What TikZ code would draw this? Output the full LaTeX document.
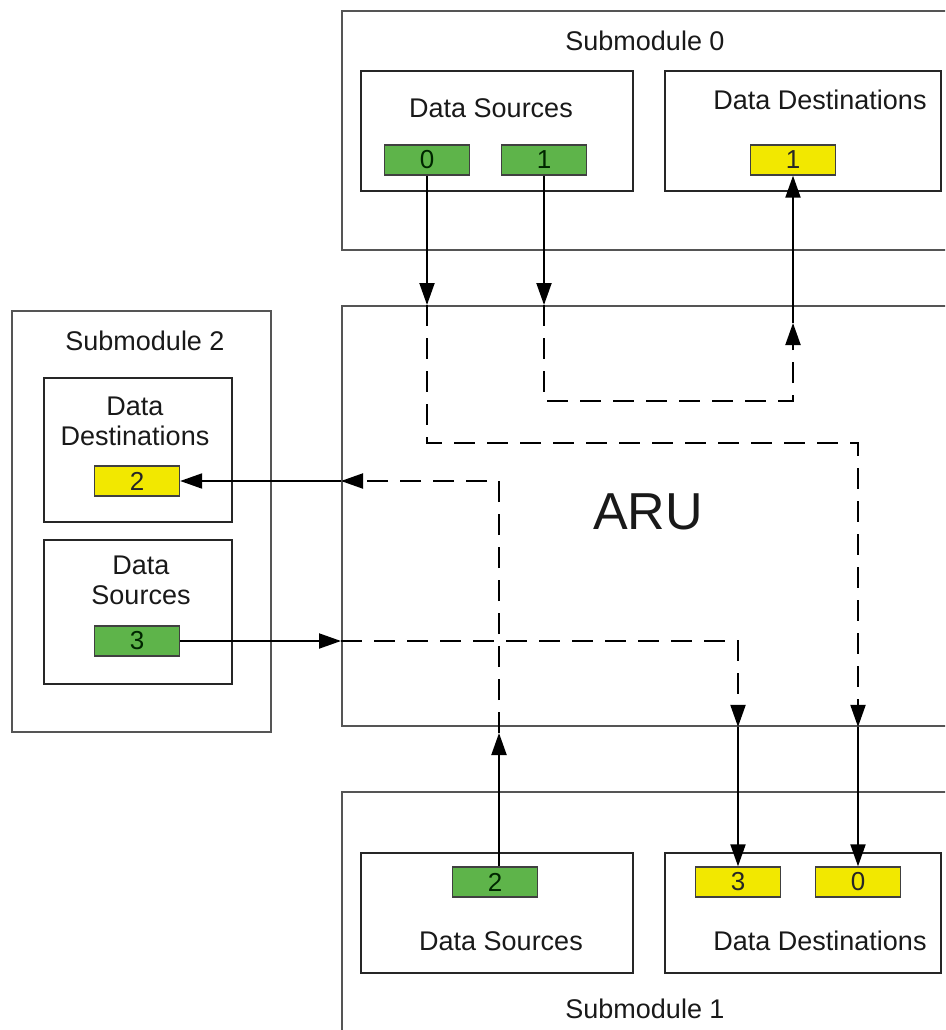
\documentclass[tikz,border=0pt]{standalone}
\usepackage{fontspec}
\setmainfont{Liberation Sans}
\usetikzlibrary{arrows.meta,calc}
\definecolor{boxgreen}{RGB}{94,180,74}
\definecolor{boxyellow}{RGB}{242,232,0}
\definecolor{linegray}{RGB}{85,85,85}
\definecolor{txt}{RGB}{25,25,25}
\begin{document}
\begin{tikzpicture}[x=1pt,y=-1pt,
  outerbox/.style={draw=linegray, line width=1.9pt, anchor=north west, inner sep=0pt},
  innerbox/.style={draw=black!85, line width=1.7pt, anchor=north west, inner sep=0pt},
  lbl/.style={font=\fontsize{27}{30}\selectfont, text=txt, inner sep=0pt, align=center},
  srcbox/.style={draw=black!75, line width=1.3pt, fill=boxgreen, minimum width=85pt, minimum height=30pt, inner sep=0pt, font=\fontsize{26}{26}\selectfont, text=black!85!green},
  dstbox/.style={srcbox, fill=boxyellow, text=black!85},
  conn/.style={line width=2pt, -{Triangle[length=22pt,width=15pt]}},
  dconn/.style={conn, dash pattern=on 21pt off 12pt},
]
\useasboundingbox (0,0) rectangle (945,1030);
\clip (0,0) rectangle (945,1030);

% Submodule 0
\node[outerbox, minimum width=640pt, minimum height=239pt] (sub0) at (341,10) {};
\node[lbl] (tsub0) at (645,41) {Submodule 0};
\node[innerbox, minimum width=272pt, minimum height=120pt] (ds0) at (360,70) {};
\node[lbl] (tds0) at (491,108) {Data Sources};
\node[innerbox, minimum width=276pt, minimum height=120pt] (dd0) at (664,70) {};
\node[lbl] (tdd0) at (820,100) {Data Destinations};
\node[srcbox] (g0) at (427,160) {0};
\node[srcbox] (g1) at (544,160) {1};
\node[dstbox] (y1) at (793,160) {1};

% ARU
\node[outerbox, minimum width=640pt, minimum height=420pt] (aru) at (341,305) {};
\node[lbl, font=\fontsize{52}{52}\selectfont] (taru) at (648,512) {ARU};

% Submodule 2
\node[outerbox, minimum width=259pt, minimum height=421pt] (sub2) at (11,310) {};
\node[lbl] (tsub2) at (145,341) {Submodule 2};
\node[innerbox, minimum width=188pt, minimum height=144pt] (dd2) at (43,377) {};
\node[lbl] (tdd2) at (135,421) {Data\\Destinations};
\node[dstbox] (y2) at (137,481) {2};
\node[innerbox, minimum width=188pt, minimum height=144pt] (ds2) at (43,539) {};
\node[lbl] (tds2) at (141,580) {Data\\Sources};
\node[srcbox] (g3) at (137,641) {3};

% Submodule 1
\node[outerbox, minimum width=640pt, minimum height=250pt] (sub1) at (341,791) {};
\node[lbl] (tsub1) at (645,1009) {Submodule 1};
\node[innerbox, minimum width=272pt, minimum height=120pt] (ds1) at (360,852) {};
\node[lbl] (tds1) at (501,941) {Data Sources};
\node[innerbox, minimum width=276pt, minimum height=120pt] (dd1) at (664,852) {};
\node[lbl] (tdd1) at (820,941) {Data Destinations};
\node[srcbox] (g2) at (495,882) {2};
\node[dstbox] (y3) at (738,882) {3};
\node[dstbox] (y0) at (858,882) {0};

% route of source 0 -> destination 0
\coordinate (c0a) at (427,443);
\coordinate (c0b) at (858,443);
\draw[conn] (g0.south) -- (g0 |- aru.north);
\draw[dconn] (g0 |- aru.north) -- (c0a) -- (c0b) -- (c0b |- aru.south);
\draw[conn] (c0b |- aru.south) -- (y0.north);

% route of source 1 -> destination 1
\coordinate (c1a) at (544,401);
\coordinate (c1b) at (793,401);
\coordinate (c1c) at (793,323);
\draw[conn] (g1.south) -- (g1 |- aru.north);
\draw[dconn] (g1 |- aru.north) -- (c1a) -- (c1b) -- (c1c);
\draw[conn] (c1c) -- (y1.south);

% route of source 2 -> destination 2
\coordinate (c2a) at (499,733);
\coordinate (c2b) at (499,481);
\draw[conn] (g2.north -| c2a) -- (c2a);
\draw[dconn] (c2a) -- (c2b) -- (c2b -| aru.west);
\draw[conn] (c2b -| aru.west) -- (y2.east);

% route of source 3 -> destination 3
\coordinate (c3a) at (738,641);
\draw[conn] (g3.east) -- (g3 -| aru.west);
\draw[dconn] (g3 -| aru.west) -- (c3a) -- (c3a |- aru.south);
\draw[conn] (c3a |- aru.south) -- (y3.north);
\end{tikzpicture}
\end{document}
